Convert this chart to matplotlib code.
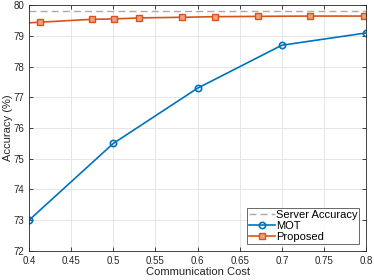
import matplotlib
matplotlib.use("Agg")
import matplotlib.pyplot as plt

plt.rcParams['font.family'] = ['Liberation Sans', 'DejaVu Sans']

server_acc = 79.83
mot_x = [0.4, 0.5, 0.6, 0.7, 0.8]
mot_y = [73.0, 75.5, 77.3, 78.7, 79.1]
prop_x = [0.4, 0.413, 0.475, 0.5005, 0.531, 0.581, 0.621, 0.672, 0.7335, 0.798, 0.8]
prop_y = [79.43, 79.45, 79.545, 79.555, 79.59, 79.61, 79.63, 79.64, 79.65, 79.65, 79.65]
xticks = [0.4, 0.45, 0.5, 0.55, 0.6, 0.65, 0.7, 0.75, 0.8]
yticks = [72, 73, 74, 75, 76, 77, 78, 79, 80]

fig = plt.figure(figsize=(3.74, 2.8), dpi=100)
ax = fig.add_axes([0.0775, 0.104, 0.9015, 0.877])

ax.axhline(server_acc, color='#aaaaaa', linestyle=(0, (5, 3)), linewidth=1.0, label='Server Accuracy')
ax.plot(mot_x, mot_y, color='#0072BD', marker='o', markersize=4.5, markerfacecolor='none',
        markeredgewidth=1.2, linewidth=1.2, label='MOT')
ax.plot(prop_x, prop_y, color='#D95319', marker='s', markersize=4, markerfacecolor='#EE9F80',
        markeredgewidth=1.0, linewidth=1.2, markevery=list(range(1, len(prop_x) - 1)), label='Proposed')

ax.set_xlim(0.4, 0.8)
ax.set_ylim(72, 80)
ax.set_xticks(xticks)
ax.set_xticklabels([f"{v:g}" for v in xticks])
ax.set_yticks(yticks)
ax.grid(True, color='#e6e6e6', linewidth=0.7)
ax.set_axisbelow(True)
ax.tick_params(direction='in', labelsize=7, colors='#262626', length=3, width=0.6, top=True, right=True,
               labeltop=False, labelright=False)
for s in ax.spines.values():
    s.set_color('#262626')
    s.set_linewidth(0.6)
ax.set_xlabel('Communication Cost', fontsize=8, color='#262626', labelpad=1)
ax.set_ylabel('Accuracy (%)', fontsize=8, color='#262626')
ax.yaxis.set_label_coords(-0.046, 0.5)

leg = ax.legend(loc='lower right', fontsize=8, frameon=True, fancybox=False, borderpad=0.2,
                handlelength=2.3, handletextpad=0.1, labelspacing=0.1, borderaxespad=0.6)
leg.get_frame().set_edgecolor('#262626')
leg.get_frame().set_linewidth(0.6)

fig.savefig('out.png', dpi=100)
